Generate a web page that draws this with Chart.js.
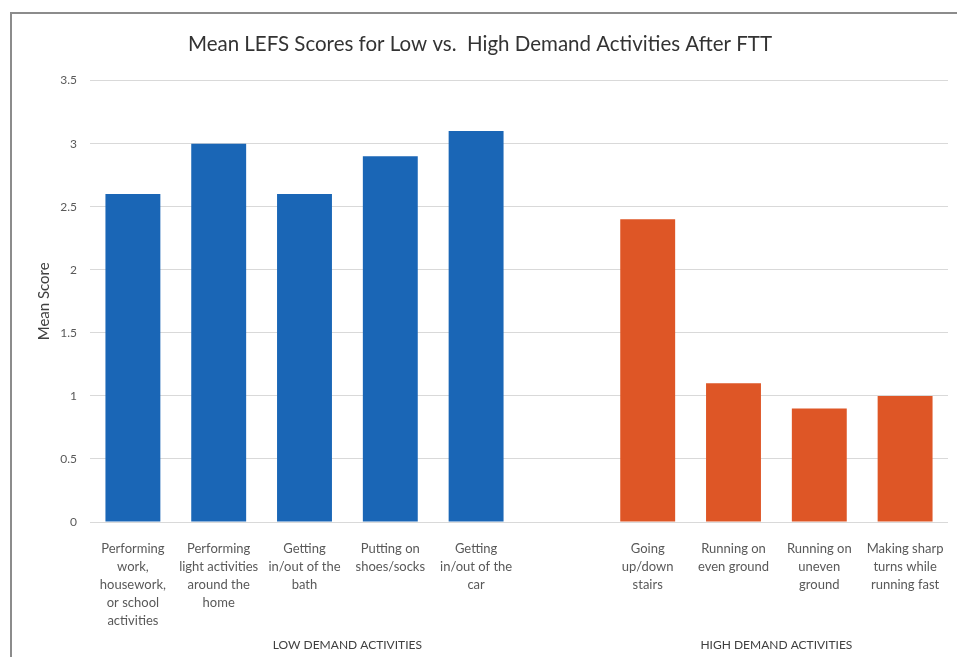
<!DOCTYPE html>
<html>
<head>
<meta charset="utf-8">
<script src="https://cdn.jsdelivr.net/npm/chart.js@4"></script>
<style>
  html, body { margin: 0; padding: 0; background: #fff; overflow: hidden; }
  #frame { position: absolute; left: 10px; top: 12px; width: 945px; height: 643px;
           border-top: 2px solid #8c8c8c; border-left: 2px solid #8c8c8c; }
  canvas { display: block; }
</style>
</head>
<body>
<div id="frame"><canvas id="chart" width="945" height="643"></canvas></div>
<script>
(() => {
    const lowLabels = [
        ['Performing', 'work,', 'housework,', 'or school', 'activities'],
        ['Performing', 'light activities', 'around the', 'home'],
        ['Getting', 'in/out of the', 'bath'],
        ['Putting on', 'shoes/socks'],
        ['Getting', 'in/out of the', 'car']
    ];
    const lowValues = [2.6, 3.0, 2.6, 2.9, 3.1];
    const highLabels = [
        ['Going', 'up/down', 'stairs'],
        ['Running on', 'even ground'],
        ['Running on', 'uneven', 'ground'],
        ['Making sharp', 'turns while', 'running fast']
    ];
    const highValues = [2.4, 1.1, 0.9, 1.0];
    const groupNames = ['LOW DEMAND ACTIVITIES', 'HIGH DEMAND ACTIVITIES'];
    const yTicks = [0, 0.5, 1, 1.5, 2, 2.5, 3, 3.5];

    const colors = { blue: '#1a66b6', orange: '#de5626' };
    const font = 'Lato';

    // empty slot closes the low group, like the spreadsheet source
    const labels = [...lowLabels, '', ...highLabels];
    const values = [...lowValues, null, ...highValues];
    const barColors = [
        ...lowValues.map(() => colors.blue), colors.blue,
        ...highValues.map(() => colors.orange)
    ];
    const groupCounts = [lowLabels.length + 1, highLabels.length];

    const groupLabels = {
        id: 'groupLabels',
        afterDraw(chart) {
            const x = chart.scales.x;
            const ctx = chart.ctx;
            ctx.save();
            ctx.font = '12px ' + font;
            ctx.fillStyle = '#404040';
            ctx.textAlign = 'center';
            ctx.textBaseline = 'middle';
            let start = 0;
            groupNames.forEach((name, i) => {
                const end = start + groupCounts[i] - 1;
                const mid = (x.getPixelForValue(start) + x.getPixelForValue(end)) / 2;
                ctx.fillText(name, mid, chart.chartArea.bottom + 123);
                start += groupCounts[i];
            });
            ctx.restore();
        }
    };

    const ctx = document.getElementById('chart').getContext('2d');
    new Chart(ctx, {
        type: 'bar',
        data: {
            labels: labels,
            datasets: [{
                data: values,
                backgroundColor: barColors,
                barPercentage: 0.64,
                categoryPercentage: 1
            }]
        },
        options: {
            responsive: false,
            animation: false,
            layout: { padding: { left: 0, right: 9, top: 0, bottom: 0 } },
            plugins: {
                legend: { display: false },
                tooltip: { enabled: false },
                title: {
                    display: true,
                    text: 'Mean LEFS Scores for Low vs.  High Demand Activities After FTT',
                    color: '#333333',
                    font: { family: font, size: 20.5, weight: 'normal' },
                    padding: { top: 18, bottom: 24 }
                }
            },
            scales: {
                x: {
                    grid: { display: false },
                    border: { display: false },
                    ticks: {
                        color: '#595959',
                        font: { family: font, size: 13, lineHeight: 1.38 },
                        padding: 10,
                        maxRotation: 0,
                        autoSkip: false
                    },
                    afterFit(scale) { scale.height = 135; }
                },
                y: {
                    min: 0,
                    max: 3.5,
                    afterBuildTicks(scale) { scale.ticks = yTicks.map(v => ({ value: v })); },
                    grid: { color: '#d9d9d9', drawTicks: false },
                    border: { display: false },
                    ticks: {
                        color: '#595959',
                        font: { family: font, size: 12 },
                        padding: 13,
                        callback: (v) => String(v)
                    },
                    title: {
                        display: true,
                        text: 'Mean Score',
                        color: '#404040',
                        font: { family: font, size: 15 },
                        padding: { top: 23, bottom: 0 }
                    },
                    afterFit(scale) { scale.width = 78; }
                }
            }
        },
        plugins: [groupLabels]
    });
})();
</script>
</body>
</html>
